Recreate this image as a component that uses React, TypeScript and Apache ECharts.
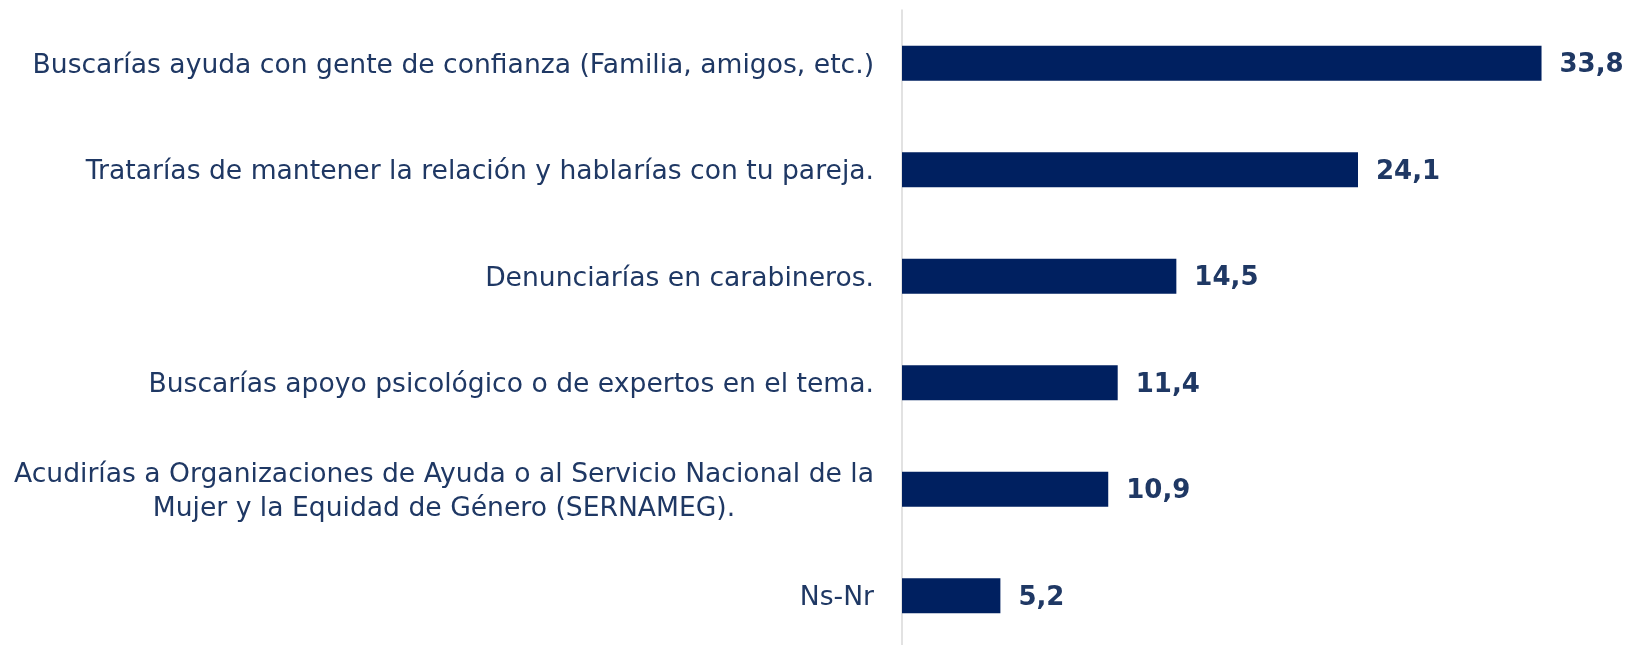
import React, { useEffect, useRef } from "react";
import * as echarts from "echarts";

const categories: string[] = [
  "Buscarías ayuda con gente de confianza (Familia, amigos, etc.)",
  "Tratarías de mantener la relación y hablarías con tu pareja.",
  "Denunciarías en carabineros.",
  "Buscarías apoyo psicológico o de expertos en el tema.",
  "Acudirías a Organizaciones de Ayuda o al Servicio Nacional de la\nMujer y la Equidad de Género (SERNAMEG).",
  "Ns-Nr",
];
const values: number[] = [33.8, 24.1, 14.5, 11.4, 10.9, 5.2];

export default function App() {
  const ref = useRef<HTMLDivElement>(null);
  useEffect(() => {
    if (!ref.current) return;
    const chart = echarts.init(ref.current, undefined, { renderer: "svg" });
    chart.setOption({
      animation: false,
      textStyle: { fontFamily: "DejaVu Sans" },
      grid: { left: 902, right: 7, top: 10, bottom: 6, containLabel: false },
      xAxis: { type: "value", min: 0, max: 38, show: false },
      yAxis: {
        type: "category",
        inverse: true,
        data: categories,
        axisLine: { show: true, lineStyle: { color: "#D9D9D9", width: 1.5 } },
        axisTick: { show: false },
        axisLabel: {
          margin: 28,
          formatter: (v: string) =>
            v
              .split("\n")
              .map((l) => `{c|${l}}`)
              .join("\n"),
          rich: {
            c: {
              align: "center",
              fontSize: 26.6,
              lineHeight: 34,
              color: "#1F3864",
              fontFamily: "DejaVu Sans",
            },
          },
        },
      },
      series: [
        {
          type: "bar",
          data: values,
          barWidth: 35,
          itemStyle: { color: "#002060" },
          label: {
            show: true,
            position: "right",
            distance: 18,
            fontSize: 26,
            fontWeight: "bold",
            fontFamily: "DejaVu Sans",
            color: "#1F3864",
            formatter: (p: any) => String(p.value).replace(".", ","),
          },
        },
      ],
    });
    return () => chart.dispose();
  }, []);
  return (
    <div
      ref={ref}
      style={{ position: "fixed", left: 0, top: 0, width: 1628, height: 655 }}
    />
  );
}
